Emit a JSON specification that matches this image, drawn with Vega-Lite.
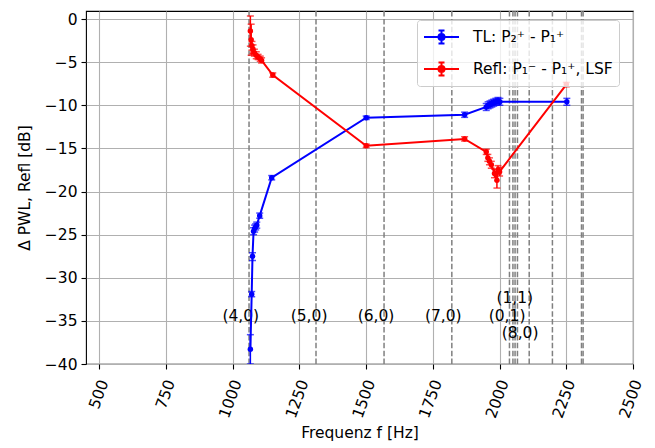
{
  "$schema": "https://vega.github.io/schema/vega-lite/v6.json",
  "width": 547,
  "height": 353,
  "autosize": {"type": "none"},
  "padding": {"left": 86, "top": 11, "right": 22, "bottom": 84},
  "background": "white",
  "config": {
    "font": "DejaVu Sans",
    "view": {"stroke": "black", "strokeWidth": 1.1},
    "axis": {
      "labelFont": "DejaVu Sans", "labelFontSize": 15.5, "labelColor": "black",
      "titleFont": "DejaVu Sans", "titleFontSize": 15.5, "titleFontWeight": "normal", "titleColor": "black",
      "domain": false, "tickColor": "black", "tickSize": 5, "tickWidth": 1.1,
      "grid": true, "gridColor": "#b0b0b0", "gridWidth": 1.1
    }
  },
  "datasets": {
    "series": [
      {"s": "TL: P₂⁺ - P₁⁺", "f": 1066, "v": -38.3, "lo": -40.0, "hi": -36.6},
      {"s": "TL: P₂⁺ - P₁⁺", "f": 1071, "v": -31.9, "lo": -32.2, "hi": -31.6},
      {"s": "TL: P₂⁺ - P₁⁺", "f": 1074, "v": -27.5, "lo": -28.0, "hi": -27.1},
      {"s": "TL: P₂⁺ - P₁⁺", "f": 1078, "v": -24.6, "lo": -25.0, "hi": -24.2},
      {"s": "TL: P₂⁺ - P₁⁺", "f": 1082, "v": -24.3, "lo": -24.7, "hi": -23.9},
      {"s": "TL: P₂⁺ - P₁⁺", "f": 1086, "v": -24.1, "lo": -24.45, "hi": -23.75},
      {"s": "TL: P₂⁺ - P₁⁺", "f": 1090, "v": -23.9, "lo": -24.25, "hi": -23.55},
      {"s": "TL: P₂⁺ - P₁⁺", "f": 1101, "v": -22.8, "lo": -23.1, "hi": -22.5},
      {"s": "TL: P₂⁺ - P₁⁺", "f": 1146, "v": -18.4, "lo": -18.65, "hi": -18.15},
      {"s": "TL: P₂⁺ - P₁⁺", "f": 1500, "v": -11.45, "lo": -11.65, "hi": -11.25},
      {"s": "TL: P₂⁺ - P₁⁺", "f": 1869, "v": -11.1, "lo": -11.4, "hi": -10.8},
      {"s": "TL: P₂⁺ - P₁⁺", "f": 1950, "v": -10.2, "lo": -10.6, "hi": -9.8},
      {"s": "TL: P₂⁺ - P₁⁺", "f": 1957, "v": -10.0, "lo": -10.4, "hi": -9.6},
      {"s": "TL: P₂⁺ - P₁⁺", "f": 1964, "v": -9.9, "lo": -10.3, "hi": -9.5},
      {"s": "TL: P₂⁺ - P₁⁺", "f": 1971, "v": -9.8, "lo": -10.2, "hi": -9.4},
      {"s": "TL: P₂⁺ - P₁⁺", "f": 1978, "v": -9.7, "lo": -10.1, "hi": -9.3},
      {"s": "TL: P₂⁺ - P₁⁺", "f": 1986, "v": -9.6, "lo": -10.0, "hi": -9.2},
      {"s": "TL: P₂⁺ - P₁⁺", "f": 1994, "v": -9.5, "lo": -9.9, "hi": -9.1},
      {"s": "TL: P₂⁺ - P₁⁺", "f": 2001, "v": -9.6, "lo": -10.0, "hi": -9.2},
      {"s": "TL: P₂⁺ - P₁⁺", "f": 2252, "v": -9.6, "lo": -10.0, "hi": -9.2},
      {"s": "Refl: P₁⁻ - P₁⁺, LSF", "f": 1066, "v": -1.4, "lo": -3.15, "hi": 0.35},
      {"s": "Refl: P₁⁻ - P₁⁺, LSF", "f": 1069, "v": -2.4, "lo": -4.2, "hi": -0.6},
      {"s": "Refl: P₁⁻ - P₁⁺, LSF", "f": 1072, "v": -3.1, "lo": -3.6, "hi": -2.6},
      {"s": "Refl: P₁⁻ - P₁⁺, LSF", "f": 1076, "v": -3.5, "lo": -4.0, "hi": -3.0},
      {"s": "Refl: P₁⁻ - P₁⁺, LSF", "f": 1081, "v": -3.9, "lo": -4.3, "hi": -3.5},
      {"s": "Refl: P₁⁻ - P₁⁺, LSF", "f": 1088, "v": -4.2, "lo": -4.6, "hi": -3.8},
      {"s": "Refl: P₁⁻ - P₁⁺, LSF", "f": 1095, "v": -4.4, "lo": -4.7, "hi": -4.1},
      {"s": "Refl: P₁⁻ - P₁⁺, LSF", "f": 1103, "v": -4.6, "lo": -4.9, "hi": -4.3},
      {"s": "Refl: P₁⁻ - P₁⁺, LSF", "f": 1108, "v": -4.8, "lo": -5.1, "hi": -4.5},
      {"s": "Refl: P₁⁻ - P₁⁺, LSF", "f": 1150, "v": -6.5, "lo": -6.75, "hi": -6.25},
      {"s": "Refl: P₁⁻ - P₁⁺, LSF", "f": 1500, "v": -14.7, "lo": -14.9, "hi": -14.5},
      {"s": "Refl: P₁⁻ - P₁⁺, LSF", "f": 1869, "v": -13.9, "lo": -14.15, "hi": -13.65},
      {"s": "Refl: P₁⁻ - P₁⁺, LSF", "f": 1950, "v": -15.4, "lo": -15.7, "hi": -15.1},
      {"s": "Refl: P₁⁻ - P₁⁺, LSF", "f": 1956, "v": -16.1, "lo": -16.5, "hi": -15.7},
      {"s": "Refl: P₁⁻ - P₁⁺, LSF", "f": 1962, "v": -16.5, "lo": -16.9, "hi": -16.1},
      {"s": "Refl: P₁⁻ - P₁⁺, LSF", "f": 1969, "v": -16.9, "lo": -17.3, "hi": -16.5},
      {"s": "Refl: P₁⁻ - P₁⁺, LSF", "f": 1981, "v": -17.9, "lo": -18.4, "hi": -17.4},
      {"s": "Refl: P₁⁻ - P₁⁺, LSF", "f": 1990, "v": -18.7, "lo": -19.6, "hi": -17.8},
      {"s": "Refl: P₁⁻ - P₁⁺, LSF", "f": 1994, "v": -17.5, "lo": -18.0, "hi": -17.0},
      {"s": "Refl: P₁⁻ - P₁⁺, LSF", "f": 2000, "v": -17.7, "lo": -18.2, "hi": -17.2},
      {"s": "Refl: P₁⁻ - P₁⁺, LSF", "f": 2250, "v": -7.6, "lo": -7.85, "hi": -7.35}
    ],
    "modes": [
      {"f": 1061}, {"f": 1312}, {"f": 1567}, {"f": 1821}, {"f": 2037}, {"f": 2050},
      {"f": 2058}, {"f": 2067}, {"f": 2111}, {"f": 2198}, {"f": 2307}, {"f": 2313}
    ],
    "labels": [
      {"f": 1030, "v": -34.4, "t": "(4,0)"},
      {"f": 1286, "v": -34.4, "t": "(5,0)"},
      {"f": 1537, "v": -34.4, "t": "(6,0)"},
      {"f": 1789, "v": -34.4, "t": "(7,0)"},
      {"f": 2028, "v": -34.4, "t": "(0,1)"},
      {"f": 2057, "v": -32.3, "t": "(1,1)"},
      {"f": 2077, "v": -36.4, "t": "(8,0)"}
    ]
  },
  "layer": [
    {
      "data": {"name": "modes"},
      "mark": {"type": "rule", "color": "#808080", "strokeWidth": 1.5, "strokeDash": [5.5, 2.4]},
      "encoding": {
        "x": {"field": "f", "type": "quantitative", "title": "Frequenz f [Hz]", "scale": {"domain": [450, 2500], "nice": false, "zero": false},
          "axis": {"values": [500, 750, 1000, 1250, 1500, 1750, 2000, 2250, 2500], "format": "d", "labelAngle": -70, "labelAlign": "right", "labelBaseline": "middle", "labelOffset": 4, "labelPadding": 11, "titlePadding": 6}}
      }
    },
    {
      "data": {"name": "labels"},
      "mark": {"type": "text", "fontSize": 15.5, "color": "black", "font": "DejaVu Sans", "align": "center", "baseline": "middle"},
      "encoding": {
        "x": {"field": "f", "type": "quantitative", "title": "Frequenz f [Hz]"},
        "y": {"field": "v", "type": "quantitative", "title": "Δ PWL, Refl [dB]", "scale": {"domain": [-40, 0.93], "nice": false, "zero": false},
          "axis": {"values": [0, -5, -10, -15, -20, -25, -30, -35, -40], "titlePadding": 12, "labelPadding": 4}},
        "text": {"field": "t"}
      }
    },
    {
      "data": {"name": "series"},
      "encoding": {
        "x": {"field": "f", "type": "quantitative", "title": "Frequenz f [Hz]"},
        "color": {"field": "s", "type": "nominal",
          "scale": {"domain": ["TL: P₂⁺ - P₁⁺", "Refl: P₁⁻ - P₁⁺, LSF"], "range": ["#0000ff", "#ff0000"]},
          "legend": {
            "title": null, "orient": "none", "legendX": 331, "legendY": 9,
            "symbolType": "M-1,0H2.5M0.75,-0.65V0.65M0.45,-0.65H1.05M0.45,0.65H1.05M0.45,0A0.3,0.3 0 1,0 1.05,0A0.3,0.3 0 1,0 0.45,0",
            "symbolSize": 400, "symbolStrokeWidth": 2, "labelOffset": 28, "rowPadding": 10,
            "labelFont": "DejaVu Sans", "labelFontSize": 15.5, "labelColor": "black", "labelLimit": 300,
            "padding": 6, "fillColor": "rgba(255,255,255,0.8)", "strokeColor": "#cccccc", "cornerRadius": 3,
            "encode": {"symbols": {"update": {"fill": {"scale": "color", "field": "value"}, "fillOpacity": {"value": 1}}}}
          }
        }
      },
      "layer": [
        {
          "mark": {"type": "line", "strokeWidth": 2, "clip": true},
          "encoding": {"y": {"field": "v", "type": "quantitative", "title": "Δ PWL, Refl [dB]"}, "order": {"field": "f"}}
        },
        {
          "mark": {"type": "errorbar", "ticks": {"size": 7, "thickness": 1.5}, "rule": {"strokeWidth": 1.5}, "clip": true},
          "encoding": {"y": {"field": "lo", "type": "quantitative", "title": "Δ PWL, Refl [dB]"}, "y2": {"field": "hi"}}
        },
        {
          "mark": {"type": "point", "filled": true, "opacity": 1, "size": 30, "clip": true},
          "encoding": {"y": {"field": "v", "type": "quantitative", "title": "Δ PWL, Refl [dB]"}}
        }
      ]
    }
  ]
}
